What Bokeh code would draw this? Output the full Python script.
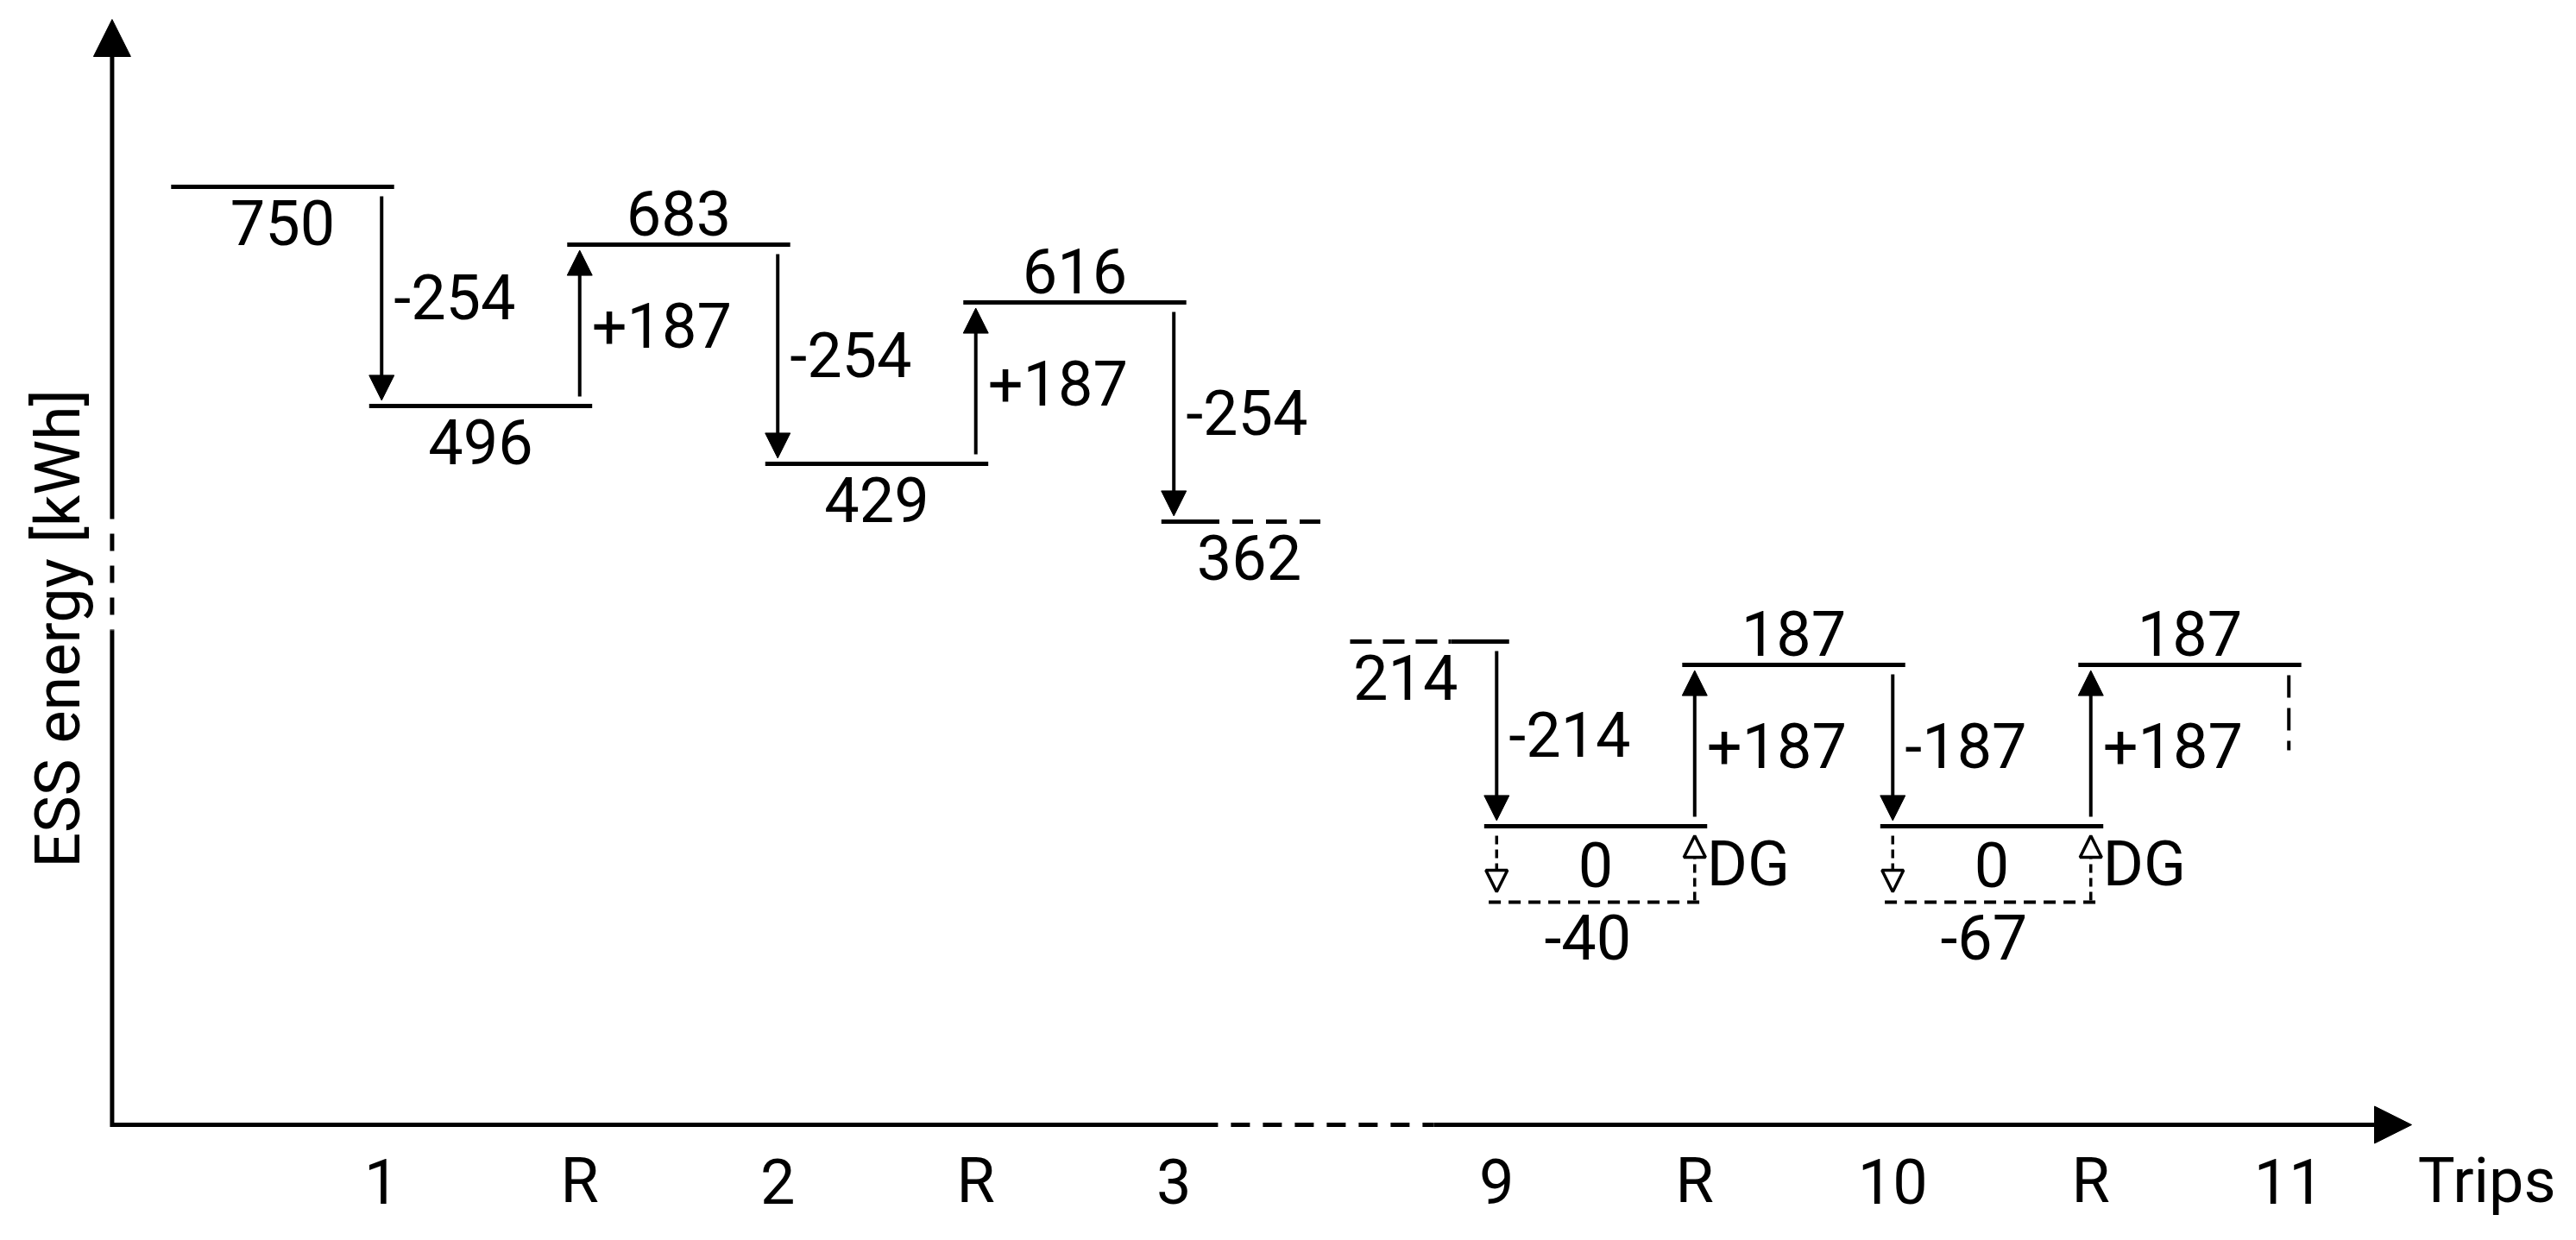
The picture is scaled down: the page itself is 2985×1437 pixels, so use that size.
import numpy as np
from bokeh.plotting import figure
from bokeh.models import ColumnDataSource, Range1d, Arrow, NormalHead
from bokeh.core.properties import value
from bokeh.embed import file_html
from bokeh.resources import INLINE

# ---------------- data ----------------
trip_labels = ["1", "R", "2", "R", "3", "9", "R", "10", "R", "11"]
level_values = [750, 496, 683, 429, 616, 362, 214, 0, 187, 0, 187]
level_label_side = ["below", "below", "above", "below", "above", "below",
                    "below", "between", "above", "between", "above"]
change_values = [-254, 187, -254, 187, -254, -214, 187, -187, 187]
change_labels = ["-254", "+187", "-254", "+187", "-254", "-214", "+187", "-187", "+187"]
deficit_values = [-40, -67]
deficit_labels = ["-40", "-67"]
deficit_trip_index = [5, 7]          # trips 9 and 10
dg_label = "DG"
x_title = "Trips"
y_title = "ESS energy [kWh]"

# ---------------- layout / style ----------------
FONT = "Roboto"
FS = "72px"
W, H = 2980, 1415
PX = (12.008 + 0.890) / 2960        # data units of x per pixel
X0 = -0.890 - 8 * PX
X1 = X0 + W * PX
Y0, Y1 = -457 + 8, 958 + 8
GAP = 0.63                    # extra room at the axis break
DELTA = 0.063                 # level line overhang
SHIFT = 9                     # offset of the part after the axis break
DEF_DEPTH = 88                # schematic depth of the deficit lines
GAP_Y = 11                    # arrow clearance from level lines
Y_AXIS_X = -0.361
X_AXIS_Y = -337
Y_TIP = 944
X_TIP = 11.25
Y_BREAK = (236, 365)
X_BREAK = (5.223, 6.313)
SOLID_EXT, DASH_EXT = 0.23, 0.74
LW_LEVEL, LW_ARROW, LW_AXIS = 5, 4, 5


def pos(i):
    return i + 1 + (GAP if i >= 5 else 0)


def ly(k):
    return level_values[k] + (SHIFT if k >= 6 else 0)


p = figure(width=W, height=H, x_range=Range1d(X0, X1), y_range=Range1d(Y0, Y1),
           output_backend="svg", toolbar_location=None, min_border=0,
           outline_line_color=None, background_fill_color="white")
p.axis.visible = False
p.grid.visible = False

# ---------------- level lines ----------------
spans = {0: (0, pos(0))}
for k in range(1, 5):
    spans[k] = (pos(k - 1), pos(k))
for k in range(7, 11):
    spans[k] = (pos(k - 2), pos(k - 1))

sx0, sx1, sy = [], [], []
for k, (a, b) in spans.items():
    sx0.append(a - DELTA); sx1.append(b + DELTA); sy.append(ly(k))
# partial levels at the break
sx0 += [pos(4) - DELTA, pos(5) - SOLID_EXT]
sx1 += [pos(4) + SOLID_EXT, pos(5) + DELTA]
sy += [ly(5), ly(6)]
p.segment(x0="x0", y0="y", x1="x1", y1="y", line_width=LW_LEVEL, line_color="black",
          source=ColumnDataSource(dict(x0=sx0, x1=sx1, y=sy)))
p.segment(x0=[pos(4) + SOLID_EXT], y0=[ly(5)], x1=[pos(4) + DASH_EXT], y1=[ly(5)],
          line_width=LW_LEVEL, line_color="black", line_dash="24 15", line_dash_offset=24)
p.segment(x0=[pos(5) - DASH_EXT], y0=[ly(6)], x1=[pos(5) - SOLID_EXT], y1=[ly(6)],
          line_width=LW_LEVEL, line_color="black", line_dash="25 13")

# level labels
lx, lyy, lt = [], [], []
def_y = SHIFT - DEF_DEPTH
for k, v in enumerate(level_values):
    if k in spans:
        a, b = spans[k]
        cx = (a + b) / 2
    elif k == 5:
        cx = pos(4) + 0.38
    else:
        cx = pos(5) - 0.46
    side = level_label_side[k]
    if side == "above":
        yy = ly(k) + 37
    elif side == "below":
        yy = ly(k) - 41
    else:
        yy = (ly(k) + def_y) / 2
    lx.append(cx); lyy.append(yy); lt.append(str(v))
p.text(x="x", y="y", text="t", source=ColumnDataSource(dict(x=lx, y=lyy, t=lt)),
       text_font=value(FONT), text_font_size=FS, text_align="center",
       text_baseline="middle", text_color="black")

# ---------------- change arrows ----------------
axs, ays, aye, alx, aly = [], [], [], [], []
for i, c in enumerate(change_values):
    k = i if i <= 4 else i + 1
    y_a, y_b = ly(k), ly(k + 1)
    sgn = 1 if y_b > y_a else -1
    axs.append(pos(i))
    ays.append(y_a + sgn * GAP_Y)
    aye.append(y_b - sgn * GAP_Y * 0.6)
    alx.append(pos(i) + 14 * PX)
    aly.append((y_a + y_b) / 2)
asrc = ColumnDataSource(dict(xs=axs, ys=ays, xe=axs, ye=aye))
p.add_layout(Arrow(x_start="xs", y_start="ys", x_end="xe", y_end="ye", source=asrc,
                   line_width=LW_ARROW, line_color="black",
                   end=NormalHead(size=29, fill_color="black", line_color="black", line_width=1)))
p.text(x="x", y="y", text="t", source=ColumnDataSource(dict(x=alx, y=aly, t=change_labels)),
       text_font=value(FONT), text_font_size=FS, text_align="left",
       text_baseline="middle", text_color="black")

# ---------------- deficits covered by DG ----------------
dx0, dx1, dys, dlx, dly = [], [], [], [], []
ddx, ddys, ddye, dux, duys, duye = [], [], [], [], [], []
for j, t in enumerate(deficit_trip_index):
    a, b = pos(t), pos(t + 1)
    dx0.append(a - 0.04); dx1.append(b + 0.03); dys.append(def_y)
    dlx.append((a + b) / 2 - 0.04); dly.append(def_y - 40)
    ddx.append(a); ddys.append(SHIFT - GAP_Y); ddye.append(def_y + 12)
    dux.append(b); duys.append(def_y + 2); duye.append(SHIFT - GAP_Y)
p.segment(x0="x0", y0="y", x1="x1", y1="y", line_width=4, line_color="black",
          line_dash="14 9", source=ColumnDataSource(dict(x0=dx0, x1=dx1, y=dys)))
p.text(x="x", y="y", text="t", source=ColumnDataSource(dict(x=dlx, y=dly, t=deficit_labels)),
       text_font=value(FONT), text_font_size=FS, text_align="center",
       text_baseline="middle", text_color="black")
hollow = dict(size=25, fill_color="white", line_color="black", line_width=3.5)
p.add_layout(Arrow(x_start="xs", y_start="ys", x_end="xe", y_end="ye",
                   source=ColumnDataSource(dict(xs=ddx, ys=ddys, xe=ddx, ye=ddye)),
                   line_width=3.5, line_color="black", line_dash="10 6",
                   end=NormalHead(**hollow)))
p.add_layout(Arrow(x_start="xs", y_start="ys", x_end="xe", y_end="ye",
                   source=ColumnDataSource(dict(xs=dux, ys=duys, xe=dux, ye=duye)),
                   line_width=3.5, line_color="black", line_dash="10 6",
                   end=NormalHead(**hollow)))
p.text(x="x", y="y", text="t",
       source=ColumnDataSource(dict(x=[b + 14 * PX for b in dux],
                                    y=[(SHIFT + def_y) / 2] * len(dux),
                                    t=[dg_label] * len(dux))),
       text_font=value(FONT), text_font_size=FS, text_align="left",
       text_baseline="middle", text_color="black")

# continuation after the last level
p.segment(x0=[pos(9)], y0=[ly(10) - 12], x1=[pos(9)], y1=[ly(10) - 99],
          line_width=4, line_color="black", line_dash="26 12")

# ---------------- axes ----------------
p.segment(x0=[Y_AXIS_X], y0=[X_AXIS_Y - 2.5], x1=[Y_AXIS_X], y1=[Y_BREAK[0]],
          line_width=LW_AXIS, line_color="black")
p.segment(x0=[Y_AXIS_X], y0=[Y_BREAK[1]], x1=[Y_AXIS_X], y1=[Y_BREAK[0]],
          line_width=LW_AXIS, line_color="black", line_dash="20 17", line_dash_offset=20)
p.add_layout(Arrow(x_start=Y_AXIS_X, y_start=Y_BREAK[1], x_end=Y_AXIS_X, y_end=Y_TIP,
                   line_width=LW_AXIS, line_color="black",
                   end=NormalHead(size=43, fill_color="black", line_color="black", line_width=1)))
p.segment(x0=[Y_AXIS_X], y0=[X_AXIS_Y], x1=[X_BREAK[0]], y1=[X_AXIS_Y],
          line_width=LW_AXIS, line_color="black")
p.segment(x0=[X_BREAK[0]], y0=[X_AXIS_Y], x1=[X_BREAK[1]], y1=[X_AXIS_Y],
          line_width=LW_AXIS, line_color="black", line_dash="22 15", line_dash_offset=22)
p.add_layout(Arrow(x_start=X_BREAK[1], y_start=X_AXIS_Y, x_end=X_TIP, y_end=X_AXIS_Y,
                   line_width=LW_AXIS, line_color="black",
                   end=NormalHead(size=43, fill_color="black", line_color="black", line_width=1)))

# tick labels and titles
TICK_Y = X_AXIS_Y - 65
tx = [pos(i) for i in range(len(trip_labels))] + [pos(len(trip_labels) - 1) + 1]
tt = trip_labels + [x_title]
p.text(x="x", y="y", text="t",
       source=ColumnDataSource(dict(x=tx, y=[TICK_Y] * len(tx), t=tt)),
       text_font=value(FONT), text_font_size=FS, text_align="center",
       text_baseline="middle", text_color="black")
p.text(x=[Y_AXIS_X - 0.27], y=[238], text=[y_title], angle=np.pi / 2,
       text_font=value(FONT), text_font_size=FS, text_align="center",
       text_baseline="middle", text_color="black")

open("out.html", "w").write(file_html(p, INLINE))
